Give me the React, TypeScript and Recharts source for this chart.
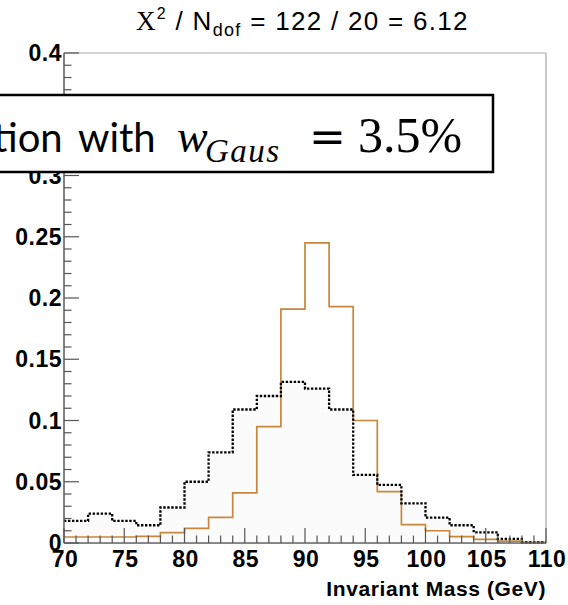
import React from "react";
import {
  ComposedChart,
  Line,
  Area,
  XAxis,
  YAxis,
  ReferenceArea,
} from "recharts";

// bin edges (GeV), 2 GeV wide bins from 70 to 110
const binEdges = [70, 72, 74, 76, 78, 80, 82, 84, 86, 88, 90, 92, 94, 96, 98, 100, 102, 104, 106, 108, 110];

// orange template histogram, one value per bin
const templateValues = [
  0.0049, 0.0049, 0.0049, 0.0054, 0.0085, 0.012, 0.021, 0.041, 0.095, 0.191,
  0.245, 0.193, 0.1, 0.042, 0.015, 0.01, 0.0052, 0.003, 0.0016, 0.0005,
];

// black dotted histogram, one value per bin
const dataValues = [
  0.018, 0.024, 0.018, 0.0145, 0.029, 0.05, 0.074, 0.109, 0.12, 0.1315,
  0.126, 0.109, 0.0556, 0.0474, 0.0324, 0.0207, 0.0145, 0.0087, 0.0033, 0.0004,
];

const xMajorTicks = [70, 75, 80, 85, 90, 95, 100, 105, 110];
const xTickLabels = ["70", "75", "80", "85", "90", "95", "100", "105", "110"];
const yMajorTicks = [0, 0.05, 0.1, 0.15, 0.2, 0.25, 0.3, 0.35, 0.4];
const yTickLabels = ["0", "0.05", "0.1", "0.15", "0.2", "0.25", "0.3", "0.35", "0.4"];

const xTicks = Array.from({ length: 41 }, (_, i) => 70 + i);
const yTicks = Array.from({ length: 41 }, (_, i) => i / 100);

// stepAfter needs a closing point at the right edge of the last bin
const chartData = binEdges.map((mass, i) => ({
  mass,
  template: templateValues[Math.min(i, templateValues.length - 1)],
  data: dataValues[Math.min(i, dataValues.length - 1)],
}));

const W = 568;
const H = 605;
const TICK = "#555";
const FRAME = "#a8a8a8";
const AXIS = "#6a6a6a";
const ORANGE = "#c8873a";

const labelFont = {
  fontFamily: "'Liberation Sans', Arial, sans-serif",
  fontWeight: 700,
  fontSize: 23,
  letterSpacing: 0.5,
  fill: "#000",
};

const titleFont = { ...labelFont, fontSize: 21, letterSpacing: 0.6 };

function XTick(props: any) {
  const { x, y, payload } = props;
  const idx = xMajorTicks.indexOf(payload.value);
  const major = idx >= 0;
  return (
    <g>
      <line x1={x} x2={x} y1={y} y2={y - (major ? 15 : 7.5)} stroke={TICK} strokeWidth={1.2} />
      {major && (
        <text x={x + 1} y={y + 24} textAnchor="middle" style={labelFont}>
          {xTickLabels[idx]}
        </text>
      )}
    </g>
  );
}

function YTick(props: any) {
  const { x, y, payload } = props;
  const idx = yMajorTicks.findIndex((t) => Math.abs(t - payload.value) < 1e-6);
  const major = idx >= 0;
  return (
    <g>
      <line x1={x} x2={x + (major ? 15 : 7.5)} y1={y} y2={y} stroke={TICK} strokeWidth={1.2} />
      {major && (
        <text x={x - 2} y={y + 8} textAnchor="end" style={labelFont}>
          {yTickLabels[idx]}
        </text>
      )}
    </g>
  );
}

function Overlay() {
  const sans = "'Liberation Sans', Arial, sans-serif";
  const serif = "'Liberation Serif', 'Times New Roman', serif";
  return (
    <svg width={W} height={H} style={{ position: "absolute", left: 0, top: 0, pointerEvents: "none" }}>
      <text x={136} y={30} fontFamily={sans} fontSize={26} letterSpacing={1.3} fill="#000">
        <tspan fontFamily={serif} fontSize={27}>X</tspan>
        <tspan dy={-11} fontSize={16}>2</tspan>
        <tspan dy={11}> / N</tspan>
        <tspan dy={6} fontSize={18}>dof</tspan>
        <tspan dy={-6}> = 122 / 20 = 6.12</tspan>
      </text>

      <rect x={-5} y={95} width={498} height={77} fill="#fff" stroke="#000" strokeWidth={2.5} />
      <text y={152} fill="#000">
        <tspan x={-7} fontFamily="Lato, sans-serif" fontSize={40}>tion</tspan>
        <tspan x={78} fontFamily="Lato, sans-serif" fontSize={40}>with</tspan>
        <tspan x={177} fontFamily={serif} fontStyle="italic" fontSize={46}>w</tspan>
        <tspan x={205} dy={10} fontFamily={serif} fontStyle="italic" fontSize={33} letterSpacing={1.5}>Gaus</tspan>
        <tspan x={309} dy={-10} fontFamily="'DejaVu Serif', serif" fontSize={44}>=</tspan>
        <tspan x={358} fontFamily={serif} fontSize={50}>3.5%</tspan>
      </text>
    </svg>
  );
}

export default function App() {
  return (
    <div style={{ position: "absolute", left: 0, top: 0, width: W, height: H, background: "#fff" }}>
      <ComposedChart
        width={W}
        height={H}
        data={chartData}
        margin={{ top: 53, right: 22, bottom: 0, left: 0 }}
      >
        <ReferenceArea x1={70} x2={110} y1={0} y2={0.4} fill="none" stroke={FRAME} strokeWidth={1.2} ifOverflow="visible" />
        <XAxis
          dataKey="mass"
          type="number"
          domain={[70, 110]}
          ticks={xTicks}
          interval={0}
          height={62}
          tickSize={0}
          tickMargin={0}
          tickLine={false}
          axisLine={{ stroke: AXIS, strokeWidth: 1.5 }}
          tick={(p: any) => <XTick {...p} />}
        />
        <YAxis
          type="number"
          domain={[0, 0.4]}
          ticks={yTicks}
          interval={0}
          width={64}
          tickSize={0}
          tickMargin={0}
          tickLine={false}
          axisLine={{ stroke: AXIS, strokeWidth: 1.5 }}
          tick={(p: any) => <YTick {...p} />}
        />
        <Area
          type="stepAfter"
          dataKey="data"
          stroke="none"
          fill="#fbfbfb"
          fillOpacity={1}
          isAnimationActive={false}
        />
        <Line
          type="stepAfter"
          dataKey="template"
          stroke={ORANGE}
          strokeWidth={1.7}
          dot={false}
          isAnimationActive={false}
        />
        <Line
          type="stepAfter"
          dataKey="data"
          stroke="#000"
          strokeWidth={2.3}
          strokeDasharray="2.4 1.6"
          dot={false}
          isAnimationActive={false}
        />
      </ComposedChart>
      <svg width={W} height={40} style={{ position: "absolute", left: 0, top: 565 }}>
        <text x={546} y={31} textAnchor="end" style={titleFont}>
          Invariant Mass (GeV)
        </text>
      </svg>
      <Overlay />
    </div>
  );
}
